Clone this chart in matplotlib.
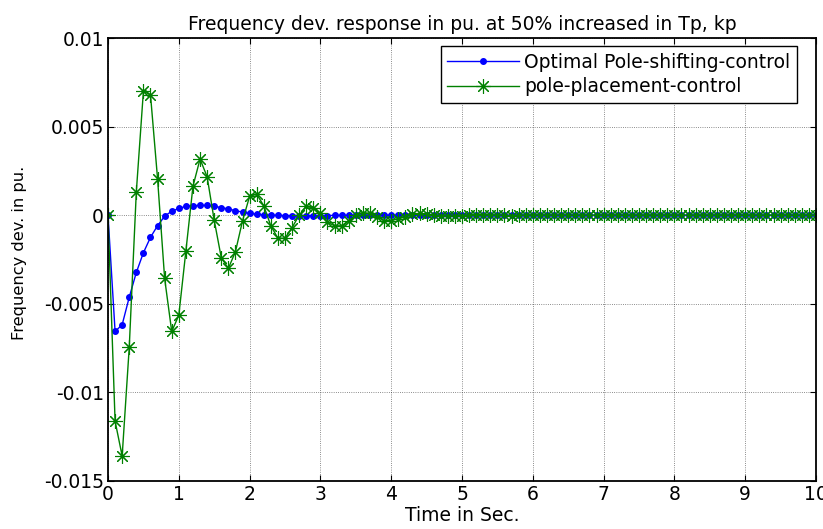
import numpy as np
import matplotlib
matplotlib.use("Agg")
import matplotlib.pyplot as plt

plt.rcParams['font.family'] = ['DejaVu Sans']

time = np.round(np.arange(0, 10.01, 0.1), 1)

optimal = [0, -0.00656, -0.00618, -0.00463, -0.00323, -0.00212, -0.00125, -0.00059, -0.00006, 0.00023,
           0.00038, 0.00050, 0.00054, 0.00055, 0.00055, 0.00050, 0.00043, 0.00035, 0.00026, 0.00017,
           0.00010, 0.00006, 0.00002, 0.0, -0.00001, -0.00002, -0.00002, -0.00002, -0.00002, -0.00002,
           -0.00002, -0.00002, -0.00001, -0.00001, -0.00001, 0.0, 0.0, 0.0, 0.0, 0.0,
           0.0, 0.0, 0.0, 0.0, 0.0, 0.0, 0.0, 0.0, 0.0, 0.0,
           0.0, 0.0, 0.0, 0.0, 0.0, 0.0, 0.0, 0.0, 0.0, 0.0,
           0.0, 0.0, 0.0, 0.0, 0.0, 0.0, 0.0, 0.0, 0.0, 0.0,
           0.0, 0.0, 0.0, 0.0, 0.0, 0.0, 0.0, 0.0, 0.0, 0.0,
           0.0, 0.0, 0.0, 0.0, 0.0, 0.0, 0.0, 0.0, 0.0, 0.0,
           0.0, 0.0, 0.0, 0.0, 0.0, 0.0, 0.0, 0.0, 0.0, 0.0,
           0.0]

pole_placement = [0, -0.01162, -0.01359, -0.00746, 0.00132, 0.00699, 0.00680, 0.00206, -0.00357, -0.00656,
                  -0.00565, -0.00202, 0.00163, 0.00317, 0.00217, -0.00028, -0.00240, -0.00300, -0.00206, -0.00032,
                  0.00106, 0.00119, 0.00053, -0.00060, -0.00130, -0.00130, -0.00070, 0.00000, 0.00050, 0.00040,
                  0.00010, -0.00040, -0.00060, -0.00060, -0.00030, 0.00000, 0.00015, 0.00010, -0.00010, -0.00030,
                  -0.00030, -0.00020, -0.00010, 0.00005, 0.00010, 0.00005, 0.00000, -0.00003, -0.00005, -0.00004,
                  -0.00002, 0.00001, 0.00003, 0.00003, 0.00002, 0.0, -0.00001, -0.00002, -0.00001, 0.0,
                  0.00001, 0.00001, 0.0, 0.0, -0.00001, 0.0, 0.0, 0.0, 0.0, 0.0,
                  0.0, 0.0, 0.0, 0.0, 0.0, 0.0, 0.0, 0.0, 0.0, 0.0,
                  0.0, 0.0, 0.0, 0.0, 0.0, 0.0, 0.0, 0.0, 0.0, 0.0,
                  0.0, 0.0, 0.0, 0.0, 0.0, 0.0, 0.0, 0.0, 0.0, 0.0,
                  0.0]

x_ticks = list(range(0, 11))
y_ticks = [-0.015, -0.01, -0.005, 0, 0.005, 0.01]
y_ticklabels = ['-0.015', '-0.01', '-0.005', '0', '0.005', '0.01']

fig = plt.figure(figsize=(8.23, 5.29), dpi=100)
ax = fig.add_axes([108/823, 1-481/529, (816-108)/823, (481-38)/529])

ax.plot(time, optimal, color='#0000ff', lw=1, marker='o', markersize=4,
        label='Optimal Pole-shifting-control')
ax.plot(time, pole_placement, color='#008000', lw=1, marker=(8, 2, 0), markersize=10.5,
        markeredgewidth=0.8, label='pole-placement-control')

ax.set_xlim(0, 10)
ax.set_ylim(-0.015, 0.01)
ax.set_xticks(x_ticks)
ax.set_yticks(y_ticks)
ax.set_yticklabels(y_ticklabels)
ax.tick_params(direction='in', top=True, right=True, labelsize=13.5, length=4, width=0.8, pad=3)
ax.grid(True, color='#000000', linestyle=':', linewidth=0.6, alpha=0.6)
for s in ax.spines.values():
    s.set_linewidth(1.3)

ax.set_title('Frequency dev. response in pu. at 50% increased in Tp, kp', fontsize=13.5, pad=6)
ax.set_xlabel('Time in Sec.', fontsize=13.5, labelpad=1)
ax.set_ylabel('Frequency dev. in pu.', fontsize=11.7)
ax.yaxis.set_label_coords(-0.115, 0.516)

leg = ax.legend(loc='upper right', fontsize=13.5, frameon=True, fancybox=False,
                edgecolor='black', framealpha=1, handlelength=3.8, handletextpad=0.3,
                borderpad=0.35, labelspacing=0.3, borderaxespad=0,
                bbox_to_anchor=((797-108)/708, (481-46)/443))
leg.get_frame().set_linewidth(1.0)

fig.savefig('out.png', dpi=100)
